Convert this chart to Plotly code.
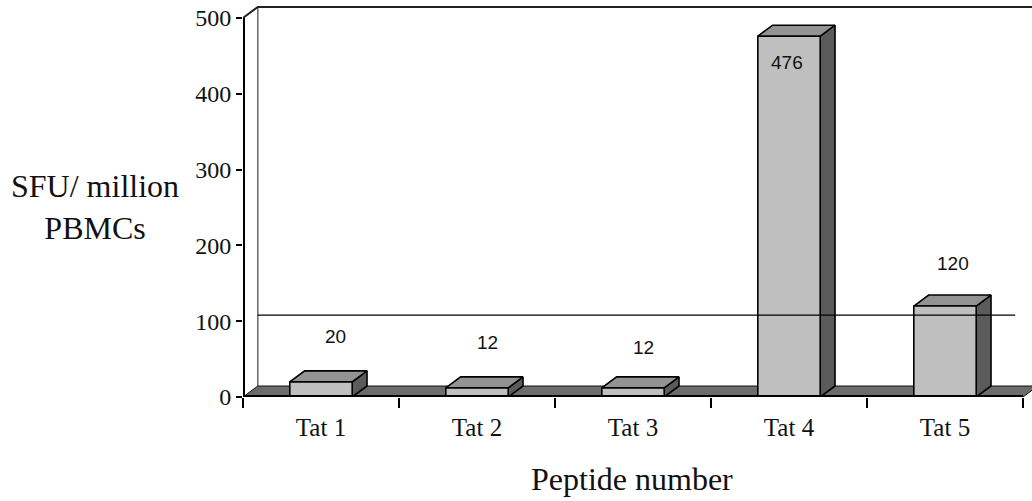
import plotly.graph_objects as go

# ---- data ----
categories = ["Tat 1", "Tat 2", "Tat 3", "Tat 4", "Tat 5"]
values = [20, 12, 12, 476, 120]
value_labels = ["20", "12", "12", "476", "120"]
threshold = 108
y_ticks = [0, 100, 200, 300, 400, 500]
y_max = 500

# ---- style / geometry ----
BAR_W = 0.4
DX = 0.095      # depth offset in x data units
DY = 14.5       # depth offset in y data units
label_shift = [45, 45, 40, -26, 43]
label_dx = [0.09, 0.065, 0.065, -0.01, 0.05]
FRONT = "#bfbfbf"
TOP = "#939393"
SIDE = "#5b5b5b"
FLOOR = "#6c6c6c"
SERIF = "Liberation Serif, Times New Roman, serif"
SANS = "Liberation Sans, Arial, sans-serif"

n = len(categories)
x_lo = -0.5
x_hi = -0.5 + (1032 - 243) / 156.0
y_hi = 397 / 0.758

fig = go.Figure()

# back wall
fig.add_trace(go.Scatter(
    x=[x_lo + DX, x_lo + DX], y=[DY, y_max + DY], mode="lines",
    line=dict(color="#666666", width=1.5), hoverinfo="skip", showlegend=False))
fig.add_trace(go.Scatter(
    x=[x_lo, x_lo + DX, x_hi], y=[y_max, y_max + DY, y_max + DY], mode="lines",
    line=dict(color="#222222", width=2), hoverinfo="skip", showlegend=False))

# floor
x_end = n - 0.5
fig.add_trace(go.Scatter(
    x=[x_lo, x_end, x_end + DX, x_lo + DX, x_lo],
    y=[0, 0, DY, DY, 0], mode="lines", fill="toself", fillcolor=FLOOR,
    line=dict(color="#111111", width=1), hoverinfo="skip", showlegend=False))

# bars
sx, sy, tx, ty, fx, fy = [], [], [], [], [], []
for i, v in enumerate(values):
    l, r = i - BAR_W / 2, i + BAR_W / 2
    sx += [r, r + DX, r + DX, r, r, None]
    sy += [0, DY, v + DY, v, 0, None]
    tx += [l, r, r + DX, l + DX, l, None]
    ty += [v, v, v + DY, v + DY, v, None]
    fx += [l, r, r, l, l, None]
    fy += [0, 0, v, v, 0, None]
for xs, ys, col in [(sx, sy, SIDE), (tx, ty, TOP), (fx, fy, FRONT)]:
    fig.add_trace(go.Scatter(
        x=xs, y=ys, mode="lines", fill="toself", fillcolor=col,
        line=dict(color="black", width=1.6), hoverinfo="skip", showlegend=False))

# axis lines (front edge and y axis)
fig.add_trace(go.Scatter(
    x=[x_end, x_lo, x_lo], y=[0, 0, y_max], mode="lines",
    line=dict(color="black", width=4), hoverinfo="skip", showlegend=False))

# threshold line
fig.add_trace(go.Scatter(
    x=[x_lo + DX, 4.45], y=[threshold, threshold], mode="lines",
    line=dict(color="black", width=1.3), hoverinfo="skip", showlegend=False))

# value labels
for i, (v, t) in enumerate(zip(values, value_labels)):
    fig.add_annotation(x=i + label_dx[i], y=v, text=t, showarrow=False,
                       yshift=label_shift[i], xref="x", yref="y",
                       font=dict(family=SANS, size=19, color="#111111"))

# axis titles
fig.add_annotation(x=(95 - 243) / 789.0, y=(397 - 207) / 397.0, xref="paper", yref="paper",
                   xanchor="center", yanchor="middle",
                   text="SFU/ million<br>PBMCs", showarrow=False, align="center",
                   font=dict(family=SERIF, size=32, color="#111111"))
fig.add_annotation(x=(632 - 243) / 789.0, y=(397 - 479) / 397.0, xref="paper", yref="paper",
                   xanchor="center", yanchor="middle",
                   text="Peptide number", showarrow=False,
                   font=dict(family=SERIF, size=32, color="#111111"))

fig.update_layout(
    width=1032, height=501,
    margin=dict(l=243, r=0, t=0, b=104, pad=0),
    plot_bgcolor="white", paper_bgcolor="white",
    showlegend=False,
    xaxis=dict(
        range=[x_lo, x_hi], showgrid=False, zeroline=False, showline=False,
        tickmode="array", tickvals=list(range(n)), ticktext=categories,
        ticks="outside", ticklen=8, tickcolor="rgba(0,0,0,0)",
        tickfont=dict(family=SERIF, size=25, color="#111111"),
        minor=dict(tickmode="array", tickvals=[k - 0.5 for k in range(n + 1)],
                   ticks="outside", ticklen=10, tickwidth=2, tickcolor="black",
                   showgrid=False),
        fixedrange=True,
    ),
    yaxis=dict(
        range=[0, y_hi], showgrid=False, zeroline=False, showline=False,
        tickmode="array", tickvals=y_ticks,
        ticks="outside", ticklen=6, tickwidth=2, tickcolor="black",
        tickfont=dict(family=SERIF, size=24, color="#111111"),
        fixedrange=True,
    ),
)

fig.write_html("out.html")
